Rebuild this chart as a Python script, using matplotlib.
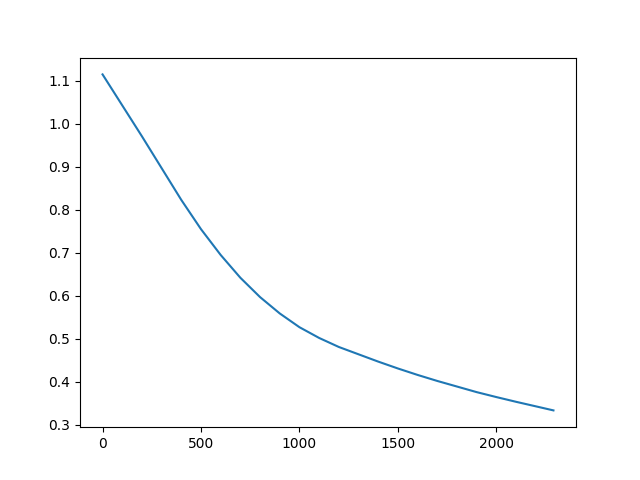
import matplotlib
matplotlib.use("Agg")
import matplotlib.pyplot as plt

# values
x_vals = [0, 100, 200, 300, 400, 500, 600, 700, 800, 900, 1000, 1100, 1200,
          1300, 1400, 1500, 1600, 1700, 1800, 1900, 2000, 2100, 2200, 2290]
y_vals = [1.115, 1.043, 0.971, 0.897, 0.823, 0.755, 0.695, 0.642, 0.597, 0.559,
          0.527, 0.502, 0.481, 0.464, 0.447, 0.431, 0.416, 0.402, 0.389, 0.376,
          0.3645, 0.3535, 0.343, 0.3335]

fig, ax = plt.subplots(figsize=(6.4, 4.8), dpi=100)
ax.plot(x_vals, y_vals, color="#1f77b4")

fig.savefig("out.png", dpi=100)
